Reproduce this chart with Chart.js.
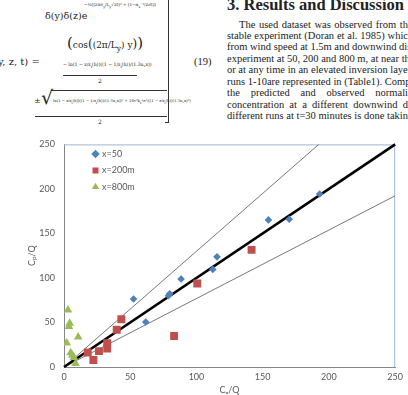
<!DOCTYPE html>
<html lang="en">
  <head>
    <meta charset="UTF-8" />
    <title>Observed vs predicted normalized concentration</title>
    <script src="https://cdn.jsdelivr.net/npm/chart.js@4"></script>
    <style>
      html, body { margin: 0; padding: 0; background: #fff; }
      body { width: 408px; height: 395px; position: relative; overflow: hidden; }
      .abs { position: absolute; white-space: nowrap; line-height: 1; color: #222; }
      .math { font-family: "DejaVu Serif", "Liberation Serif", serif; }
      .txt { font-family: "Liberation Serif", serif; font-size: 10.5px; }
      .line { left: 0; right: -2px; text-align: justify; text-align-last: justify; }
      .bar { position: absolute; height: 0; border-top: 0.8px solid #333; }
      #chartBox { position: absolute; left: 0; top: 130px; width: 408px; height: 265px; }
    </style>
  </head>
  <body>
    <!-- equation (19), cropped on the left -->
    <div class="abs math" style="left:45px;top:11px;font-size:9.5px">δ(y)δ(z)e</div>
    <div class="abs math" style="left:84px;top:3px;font-size:4.2px">−½((2πσ<sub>y</sub>/L<sub>y</sub>√2t)² + (1−α<sub>s</sub>⁻¹/2σt))</div>
    <div class="abs math" style="left:67px;top:36px;font-size:9px"><span style="font-size:15px">(</span>cos<span style="font-size:12px">(</span>(2π/L<sub>y</sub>) y<span style="font-size:12px">)</span><span style="font-size:15px">)</span></div>
    <div class="abs math" style="left:-2px;top:57px;font-size:10px">y, z, t) =</div>
    <div class="abs math" style="left:63px;top:63px;font-size:4.6px">− ln(1 − z/z<sub>i</sub>(h))((1 − 1/z<sub>i</sub>(h))/(1.3u<sub>*</sub>x))</div>
    <div class="bar" style="left:63px;top:75px;width:74px"></div>
    <div class="abs math" style="left:98px;top:78px;font-size:6px">2</div>
    <div class="abs math" style="left:34px;top:97px;font-size:8px">±</div>
    <div class="abs math" style="left:41px;top:88px;font-size:19px;font-weight:100">√</div>
    <div class="bar" style="left:51px;top:90px;width:116px"></div>
    <div class="abs math" style="left:53px;top:99px;font-size:3.8px">ln(1 − z/z<sub>i</sub>(h))((1 − 1/z<sub>i</sub>(h))/(1.3u<sub>*</sub>x))² + 16τ²k<sub>z</sub>²σ²/((1 − z/z<sub>i</sub>(h))(1.3u<sub>*</sub>x)²)</div>
    <div class="bar" style="left:35px;top:116px;width:132px"></div>
    <div class="abs math" style="left:98px;top:119px;font-size:6px">2</div>
    <div style="position:absolute;left:165px;top:-2px;width:3px;height:124px;border-right:1px solid #333;border-bottom:1px solid #333;"></div>
    <div class="abs txt" style="left:194px;top:57px;font-size:10.5px">(19)</div>

    <!-- section text, cropped on the right -->
    <div class="abs" style="left:227px;top:-3px;font-family:'Liberation Serif',serif;font-weight:bold;font-size:16.5px">3. Results and Discussion</div>
    <div class="abs txt" style="left:239px;right:0;top:20px"><div class="line">The used dataset was observed from th</div></div>
    <div class="abs txt" style="left:227px;right:0;top:31px"><div class="line">stable experiment (Doran et al. 1985) whic</div></div>
    <div class="abs txt" style="left:227px;right:0;top:42px"><div class="line">from wind speed at 1.5m and downwind dis</div></div>
    <div class="abs txt" style="left:227px;right:0;top:54px"><div class="line">experiment at 50, 200 and 800 m, at near the</div></div>
    <div class="abs txt" style="left:227px;right:0;top:65px"><div class="line">or at any time in an elevated inversion layer i</div></div>
    <div class="abs txt" style="left:227px;right:0;top:77px"><div class="line">runs 1-10are represented in (Table1). Comp</div></div>
    <div class="abs txt" style="left:227px;right:0;top:88px"><div class="line">the predicted and observed normali</div></div>
    <div class="abs txt" style="left:227px;right:0;top:100px"><div class="line">concentration at a different downwind d</div></div>
    <div class="abs txt" style="left:227px;right:0;top:111px"><div class="line">different runs at t=30 minutes is done taking I</div></div>

    <div id="chartBox"><canvas id="scatterChart"></canvas></div>

    <script>
      // observed (Co/Q) vs predicted (Cp/Q)
      const obs50 = [52.5, 61.7, 78.8, 79.8, 88.4, 112.3, 115.5, 154.3, 170, 193];
      const pred50 = [76.3, 50.6, 80, 82.3, 98.9, 109.6, 123.7, 165.2, 165.9, 194.3];
      const obs200 = [17.9, 22.2, 26.4, 32.6, 32.6, 39.8, 43.3, 83.1, 100.6, 141.6];
      const pred200 = [16.3, 7.8, 17.8, 26.7, 20.7, 41.9, 53.7, 34.8, 93.7, 131.5];
      const obs800 = [3, 4.3, 3.7, 2, 10.7, 5, 6.3, 7.5, 8.7];
      const pred800 = [64, 49, 45.5, 27, 33.7, 16, 13.3, 10.7, 4];

      // reference lines: 1:1 and factor-of-1.3 bounds
      const refX = [0, 250];
      const oneToOne = [0, 250];
      const upperBound = [0, 325];
      const lowerBound = [0, 192.3];

      const axisTicks = [0, 50, 100, 150, 200, 250];
      const seriesNames = ["x=50", "x=200m", "x=800m"];

      const toPoints = (xs, ys) => xs.map((x, i) => ({ x: x, y: ys[i] }));
      const grey = "#595959";
      const fontFamily = "Lato, 'Open Sans', sans-serif";

      // Excel-like frame: light blue top and right edges
      const plotFrame = {
        id: "plotFrame",
        beforeDatasetsDraw(chart) {
          const { ctx, chartArea: a } = chart;
          ctx.save();
          ctx.strokeStyle = "#9fb6d3";
          ctx.lineWidth = 1;
          ctx.beginPath();
          ctx.moveTo(a.left, a.top + 0.5);
          ctx.lineTo(a.right - 0.5, a.top + 0.5);
          ctx.lineTo(a.right - 0.5, a.bottom);
          ctx.stroke();
          ctx.restore();
        }
      };

      // move the in-plot legend a bit away from the axis
      const legendNudge = {
        id: "legendNudge",
        afterLayout(chart) {
          if (chart.legend) {
            chart.legend.left += 22;
            chart.legend.top += 12;
          }
        }
      };

      const ctx = document.getElementById("scatterChart").getContext("2d");
      new Chart(ctx, {
        type: "scatter",
        data: {
          datasets: [
            {
              label: seriesNames[0],
              data: toPoints(obs50, pred50),
              pointStyle: "rectRot",
              pointRadius: 3.8,
              backgroundColor: "#4f81bd",
              borderColor: "#4f81bd",
              borderWidth: 0
            },
            {
              label: seriesNames[1],
              data: toPoints(obs200, pred200),
              pointStyle: "rect",
              pointRadius: 5.6,
              backgroundColor: "#c0504d",
              borderColor: "#c0504d",
              borderWidth: 0
            },
            {
              label: seriesNames[2],
              data: toPoints(obs800, pred800),
              pointStyle: "triangle",
              pointRadius: 5,
              backgroundColor: "#9bbb59",
              borderColor: "#9bbb59",
              borderWidth: 0
            },
            {
              label: "1:1",
              data: toPoints(refX, oneToOne),
              showLine: true,
              pointRadius: 0,
              borderColor: "#000",
              borderWidth: 2.6,
              clip: 3
            },
            {
              label: "upper",
              data: toPoints(refX, upperBound),
              showLine: true,
              pointRadius: 0,
              borderColor: "#555",
              borderWidth: 0.8,
              clip: 0
            },
            {
              label: "lower",
              data: toPoints(refX, lowerBound),
              showLine: true,
              pointRadius: 0,
              borderColor: "#555",
              borderWidth: 0.8,
              clip: 0
            }
          ]
        },
        options: {
          responsive: true,
          maintainAspectRatio: false,
          animation: false,
          layout: { padding: { top: 12, right: 9, left: 0, bottom: 0 } },
          plugins: {
            tooltip: { enabled: false },
            legend: {
              position: "chartArea",
              align: "start",
              labels: {
                filter: (item) => item.datasetIndex < 3,
                usePointStyle: true,
                boxWidth: 4,
                boxHeight: 6,
                padding: 7.5,
                color: grey,
                font: { family: fontFamily, size: 9 }
              }
            }
          },
          scales: {
            x: {
              type: "linear",
              min: 0,
              max: 250,
              afterBuildTicks: (s) => { s.ticks = axisTicks.map((v) => ({ value: v })); },
              afterFit: (s) => { s.height = 28; },
              grid: { display: false, drawTicks: false },
              border: { color: "#868686", width: 1 },
              ticks: { color: grey, padding: 5, maxRotation: 0, font: { family: fontFamily, size: 9 } },
              title: {
                display: true,
                text: "Cₒ/Q",
                color: grey,
                padding: { top: 0, bottom: 0 },
                font: { family: fontFamily, size: 9 }
              }
            },
            y: {
              type: "linear",
              min: 0,
              max: 250,
              afterBuildTicks: (s) => { s.ticks = axisTicks.map((v) => ({ value: v })); },
              afterFit: (s) => { s.width = 64; },
              grid: { display: false, drawTicks: false },
              border: { color: "#868686", width: 1 },
              ticks: { color: grey, padding: 9, font: { family: fontFamily, size: 9 } },
              title: {
                display: true,
                text: "Cₚ/Q",
                color: grey,
                padding: { top: 27, bottom: 0 },
                font: { family: fontFamily, size: 9 }
              }
            }
          }
        },
        plugins: [plotFrame, legendNudge]
      });
    </script>
  </body>
</html>
